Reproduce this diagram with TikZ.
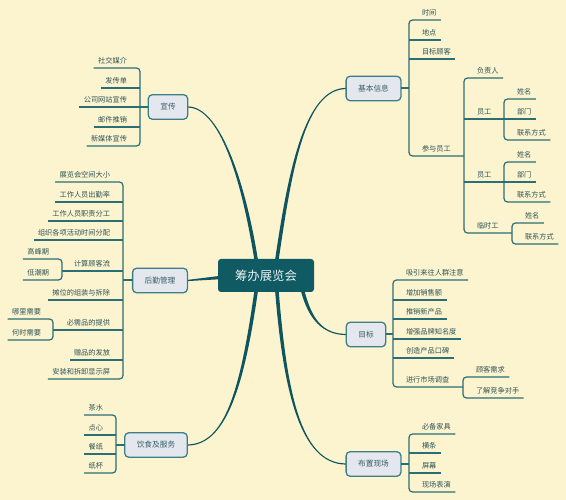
\documentclass[tikz,border=0pt]{standalone}
\usepackage{fontspec}
\newfontfamily\cjk{Noto Sans CJK SC}
\usetikzlibrary{calc}
\pgfdeclarelayer{canvas}
\pgfdeclarelayer{conn}
\pgfsetlayers{canvas,conn,main}
\definecolor{bgc}{HTML}{FCF4CF}
\definecolor{lc}{HTML}{2B6E76}
\definecolor{mc}{HTML}{0E5560}
\definecolor{ctrfill}{HTML}{0F5A63}
\definecolor{brfill}{HTML}{E4E7EE}
\definecolor{brdraw}{HTML}{3E7F87}
\definecolor{brtext}{HTML}{3A5E65}
\definecolor{leaftext}{HTML}{2E5357}
\tikzset{
  leaf/.style={font=\cjk\fontsize{7.2}{8}\selectfont, text=leaftext, inner xsep=0pt, inner ysep=4.8pt, text height=6.3pt, text depth=0pt, outer sep=0pt},
  branch/.style={font=\cjk\fontsize{7.7}{9}\selectfont, text=brtext, fill=brfill, draw=brdraw, line width=1.3pt, rounded corners=4pt, inner xsep=12pt, inner ysep=0pt, minimum height=24.5pt, outer sep=0pt},
  central/.style={font=\cjk\fontsize{12.4}{14}\selectfont, text=white!92!ctrfill, fill=ctrfill, rounded corners=3pt, inner xsep=17pt, minimum height=33pt, outer sep=0pt},
  leafline/.style={draw=lc, line width=1.2pt, rounded corners=3.5pt},
  rootline/.style={draw=lc, line width=2pt},
  mainconn/.style={fill=mc}
}
\newcommand\mmtaper[6]{\fill[mainconn] ($#1+(#5,0)$) .. controls ($#2+(#5,0)$) and ($#3+(0,#6)$) .. ($#4+(0,#6)$) -- ($#4-(0,#6)$) .. controls ($#3-(0,#6)$) and ($#2-(#5,0)$) .. ($#1-(#5,0)$) -- cycle;}
\begin{document}
\begin{tikzpicture}[x=1pt,y=-1pt]
\begin{pgfonlayer}{canvas}
\fill[bgc] (0,0) rectangle (566,500);
\end{pgfonlayer}
\useasboundingbox (0,0) rectangle (566,500);

% central and branch nodes
\node[central] (ctr) at (266,275.5) {筹办展览会};
\node[branch] (xc) at (168,107) {宣传};
\node[branch] (jb) at (373.5,88.5) {基本信息};
\node[branch] (hq) at (160,280.5) {后勤管理};
\node[branch] (mb) at (366,334.5) {目标};
\node[branch] (ys) at (156,445) {饮食及服务};
\node[branch] (bz) at (373.5,464) {布置现场};

% main connectors
\coordinate (sX) at ($(ctr.north)+(-10,0)$);
\coordinate (sJ) at ($(ctr.north)+(11,0)$);
\coordinate (sY) at ($(ctr.south)+(-10,0)$);
\coordinate (sB) at ($(ctr.south)+(11,0)$);
\coordinate (sM) at ($(ctr.south)+(37,0)$);
\begin{pgfonlayer}{conn}
\mmtaper{(sX)}{(245,190)}{(222,107)}{(xc.east)}{-1.8}{0.6}
\mmtaper{(sJ)}{(290,170)}{(305,88.5)}{(jb.west)}{-1.8}{-0.6}
\mmtaper{(sY)}{(242,390)}{(225,445)}{(ys.east)}{1.8}{0.6}
\mmtaper{(sB)}{(285,390)}{(300,464)}{(bz.west)}{1.8}{-0.6}
\mmtaper{(sM)}{(310,318)}{(322,334.5)}{(mb.west)}{1.8}{-0.6}
\fill[mainconn] ($(ctr.west)+(1,0.5)$) -- ($(hq.east)+(0,-0.6)$) -- ($(hq.east)+(0,0.6)$) -- ($(ctr.west)+(1,3.8)$) -- cycle;
\end{pgfonlayer}

% ---------- 宣传 ----------
\coordinate (bx1) at (140,107);
\node[leaf, anchor=south east] (p1) at (127,68) {社交媒介};
\node[leaf, anchor=south east] (p2) at (127,88) {发传单};
\node[leaf, anchor=south east] (p3) at (127,107) {公司网站宣传};
\node[leaf, anchor=south east] (p4) at (127,127) {邮件推销};
\node[leaf, anchor=south east] (p5) at (127,146) {新媒体宣传};
\draw[leafline] ($(p1.south west)+(-4.5,0)$) -- (p1.south -| bx1) -- (p5.south -| bx1) -- ($(p5.south west)+(-4.5,0)$);
\foreach \n in {p2,p3,p4} \draw[leafline] ($(\n.south west)+(-4.5,0)$) -- (\n.south -| bx1);
\draw[rootline] (xc.west) -- (xc.west -| bx1);

% ---------- 基本信息 ----------
\coordinate (bx2) at (409,88);
\coordinate (bx3) at (464,156);
\coordinate (bx4) at (504,119);
\coordinate (bx5) at (512,233);
\node[leaf, anchor=south west] (j1) at (422,20) {时间};
\node[leaf, anchor=south west] (j2) at (422,40) {地点};
\node[leaf, anchor=south west] (j3) at (422,59) {目标顾客};
\node[leaf, anchor=south west] (j4) at (422,156) {参与员工};
\node[leaf, anchor=south west] (j41) at (477,78) {负责人};
\node[leaf, anchor=south west] (j42) at (477,119) {员工};
\node[leaf, anchor=south west] (j43) at (477,182) {员工};
\node[leaf, anchor=south west] (j44) at (477,233) {临时工};
\node[leaf, anchor=south west] (j421) at (517,99) {姓名};
\node[leaf, anchor=south west] (j422) at (517,119) {部门};
\node[leaf, anchor=south west] (j423) at (517,140) {联系方式};
\node[leaf, anchor=south west] (j431) at (517,162) {姓名};
\node[leaf, anchor=south west] (j432) at (517,182) {部门};
\node[leaf, anchor=south west] (j433) at (517,202) {联系方式};
\node[leaf, anchor=south west] (j441) at (525,223) {姓名};
\node[leaf, anchor=south west] (j442) at (525,244) {联系方式};
\draw[rootline] (jb.east) -- (jb.east -| bx2);
\draw[leafline] ($(j1.south east)+(4.5,0)$) -- (j1.south -| bx2) -- (j4.south -| bx2) -- (j4.south -| bx3);
\foreach \n in {j2,j3} \draw[leafline] (\n.south -| bx2) -- ($(\n.south east)+(4.5,0)$);
\draw[leafline] ($(j41.south east)+(4.5,0)$) -- (j41.south -| bx3) -- (j44.south -| bx3) -- (j44.south -| bx5);
\foreach \n in {j42,j43} \draw[leafline] (\n.south -| bx3) -- (\n.south -| bx4);
\draw[leafline] ($(j421.south east)+(4.5,0)$) -- (j421.south -| bx4) -- (j423.south -| bx4) -- ($(j423.south east)+(4.5,0)$);
\draw[leafline] (j422.south -| bx4) -- ($(j422.south east)+(4.5,0)$);
\draw[leafline] ($(j431.south east)+(4.5,0)$) -- (j431.south -| bx4) -- (j433.south -| bx4) -- ($(j433.south east)+(4.5,0)$);
\draw[leafline] (j432.south -| bx4) -- ($(j432.south east)+(4.5,0)$);
\draw[leafline] ($(j441.south east)+(4.5,0)$) -- (j441.south -| bx5) -- (j442.south -| bx5) -- ($(j442.south east)+(4.5,0)$);

% ---------- 后勤管理 ----------
\coordinate (bx6) at (123,280);
\coordinate (bx6a) at (62,271);
\coordinate (bx6b) at (53,330);
\node[leaf, anchor=south east] (h1) at (110,182) {展览会空间大小};
\node[leaf, anchor=south east] (h2) at (110,202) {工作人员出勤率};
\node[leaf, anchor=south east] (h3) at (110,221) {工作人员职责分工};
\node[leaf, anchor=south east] (h4) at (110,240) {组织各项活动时间分配};
\node[leaf, anchor=south east] (h5) at (110,271) {计算顾客流};
\node[leaf, anchor=south east] (h6) at (110,300) {摊位的组装与拆除};
\node[leaf, anchor=south east] (h7) at (110,330) {必需品的提供};
\node[leaf, anchor=south east] (h8) at (110,360) {赠品的发放};
\node[leaf, anchor=south east] (h9) at (110,379) {安装和拆卸显示屏};
\node[leaf, anchor=south east] (h51) at (49,259) {高峰期};
\node[leaf, anchor=south east] (h52) at (49,280) {低潮期};
\node[leaf, anchor=south east] (h71) at (41,319) {哪里需要};
\node[leaf, anchor=south east] (h72) at (41,340) {何时需要};
\draw[rootline] (hq.west) -- (hq.west -| bx6);
\draw[leafline] ($(h1.south west)+(-4.5,0)$) -- (h1.south -| bx6) -- (h9.south -| bx6) -- ($(h9.south west)+(-4.5,0)$);
\foreach \n in {h2,h3,h4,h6,h8} \draw[leafline] ($(\n.south west)+(-4.5,0)$) -- (\n.south -| bx6);
\draw[leafline] (h5.south -| bx6a) -- (h5.south -| bx6);
\draw[leafline] (h7.south -| bx6b) -- (h7.south -| bx6);
\draw[leafline] ($(h51.south west)+(-4.5,0)$) -- (h51.south -| bx6a) -- (h52.south -| bx6a) -- ($(h52.south west)+(-4.5,0)$);
\draw[leafline] ($(h71.south west)+(-4.5,0)$) -- (h71.south -| bx6b) -- (h72.south -| bx6b) -- ($(h72.south west)+(-4.5,0)$);

% ---------- 目标 ----------
\coordinate (bx7) at (393,334);
\coordinate (bx7a) at (463,387);
\node[leaf, anchor=south west] (m1) at (406,280) {吸引来往人群注意};
\node[leaf, anchor=south west] (m2) at (406,300) {增加销售额};
\node[leaf, anchor=south west] (m3) at (406,319) {推销新产品};
\node[leaf, anchor=south west] (m4) at (406,339) {增强品牌知名度};
\node[leaf, anchor=south west] (m5) at (406,358) {创造产品口碑};
\node[leaf, anchor=south west] (m6) at (406,387) {进行市场调查};
\node[leaf, anchor=south west] (m61) at (476,377) {顾客需求};
\node[leaf, anchor=south west] (m62) at (476,398) {了解竞争对手};
\draw[rootline] (mb.east) -- (mb.east -| bx7);
\draw[leafline] ($(m1.south east)+(4.5,0)$) -- (m1.south -| bx7) -- (m6.south -| bx7) -- (m6.south -| bx7a);
\foreach \n in {m2,m3,m4,m5} \draw[leafline] (\n.south -| bx7) -- ($(\n.south east)+(4.5,0)$);
\draw[leafline] ($(m61.south east)+(4.5,0)$) -- (m61.south -| bx7a) -- (m62.south -| bx7a) -- ($(m62.south east)+(4.5,0)$);

% ---------- 饮食及服务 ----------
\coordinate (bx8) at (116,445);
\node[leaf, anchor=south east] (y1) at (103,415) {茶水};
\node[leaf, anchor=south east] (y2) at (103,435) {点心};
\node[leaf, anchor=south east] (y3) at (103,454) {餐纸};
\node[leaf, anchor=south east] (y4) at (103,473) {纸杯};
\draw[rootline] (ys.west) -- (ys.west -| bx8);
\draw[leafline] ($(y1.south west)+(-4.5,0)$) -- (y1.south -| bx8) -- (y4.south -| bx8) -- ($(y4.south west)+(-4.5,0)$);
\foreach \n in {y2,y3} \draw[leafline] ($(\n.south west)+(-4.5,0)$) -- (\n.south -| bx8);

% ---------- 布置现场 ----------
\coordinate (bx9) at (409,464);
\node[leaf, anchor=south west] (b1) at (422,434) {必备家具};
\node[leaf, anchor=south west] (b2) at (422,453) {横条};
\node[leaf, anchor=south west] (b3) at (422,473) {屏幕};
\node[leaf, anchor=south west] (b4) at (422,492) {现场表演};
\draw[rootline] (bz.east) -- (bz.east -| bx9);
\draw[leafline] ($(b1.south east)+(4.5,0)$) -- (b1.south -| bx9) -- (b4.south -| bx9) -- ($(b4.south east)+(4.5,0)$);
\foreach \n in {b2,b3} \draw[leafline] (\n.south -| bx9) -- ($(\n.south east)+(4.5,0)$);
\end{tikzpicture}
\end{document}
